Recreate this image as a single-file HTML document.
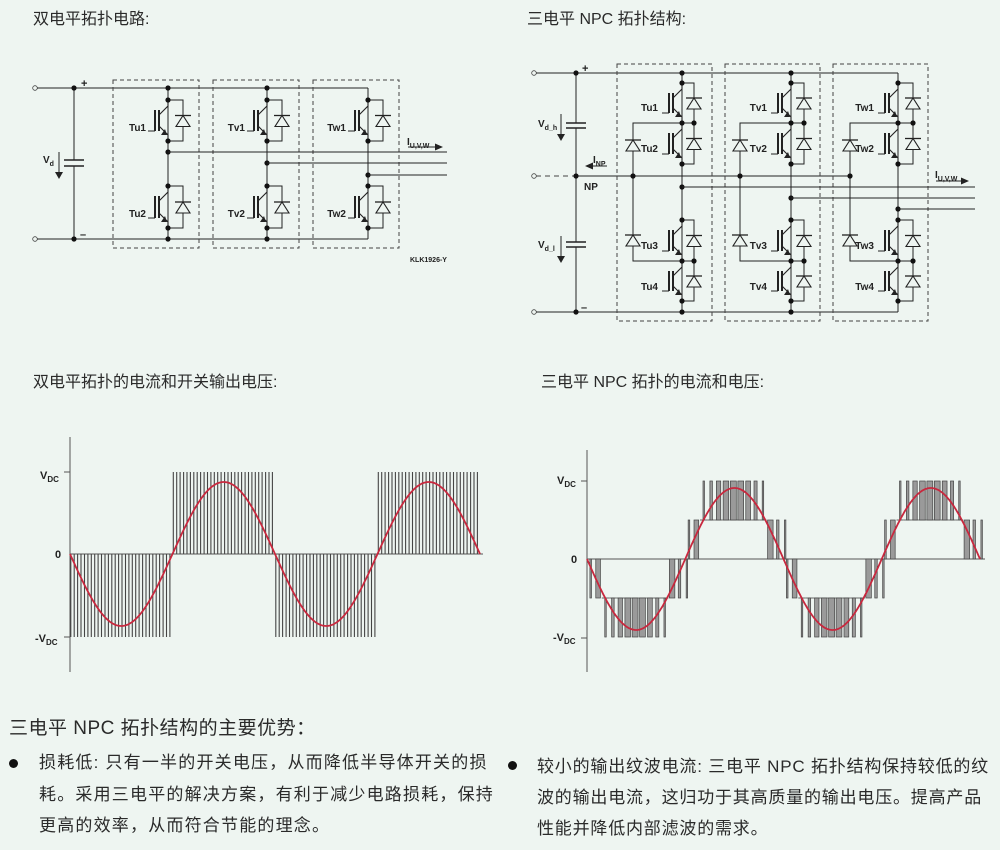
<!DOCTYPE html>
<html><head><meta charset="utf-8">
<style>
html,body{margin:0;padding:0;}
body{width:1000px;height:850px;background:#eef5f1;position:relative;overflow:hidden;font-family:"Liberation Sans","Noto Sans CJK SC",sans-serif;color:#2a2a2a;}
.t{position:absolute;white-space:nowrap;font-size:16px;line-height:20px;}
.b{position:absolute;white-space:nowrap;font-size:17px;line-height:22px;letter-spacing:1.2px;}
.r{letter-spacing:0.8px;}
.dot{position:absolute;width:9px;height:9px;border-radius:50%;background:#111;}
svg{position:absolute;left:0;top:0;}
</style></head><body>
<svg id="s" width="1000" height="850" viewBox="0 0 1000 850" font-family="Liberation Sans, sans-serif" font-weight="bold" fill="#222">
<g id="g"></g>
<g font-size="10">
<text x="81" y="87" font-size="11">+</text>
<text x="80" y="238" font-size="11">–</text>
<text x="43" y="163">V<tspan font-size="7" dy="3">d</tspan></text>
<text x="146" y="131" text-anchor="end">Tu1</text>
<text x="146" y="217" text-anchor="end">Tu2</text>
<text x="245" y="131" text-anchor="end">Tv1</text>
<text x="245" y="217" text-anchor="end">Tv2</text>
<text x="346" y="131" text-anchor="end">Tw1</text>
<text x="346" y="217" text-anchor="end">Tw2</text>
<text x="407" y="145">I<tspan font-size="7" dy="3">U,V,W</tspan></text>
<text x="410" y="262" font-size="7">KLK1926-Y</text>

<text x="582" y="72" font-size="11">+</text>
<text x="581" y="311" font-size="11">–</text>
<text x="538" y="127">V<tspan font-size="7" dy="3">d_h</tspan></text>
<text x="538" y="248">V<tspan font-size="7" dy="3">d_l</tspan></text>
<text x="593" y="163">I<tspan font-size="7" dy="3">NP</tspan></text>
<text x="584" y="190">NP</text>
<text x="935" y="178">I<tspan font-size="7" dy="3">U,V,W</tspan></text>
</g>
<g font-size="11" font-weight="bold">
<text x="40" y="479">V<tspan font-size="8" dy="3">DC</tspan></text>
<text x="55" y="558">0</text>
<text x="35" y="642">-V<tspan font-size="8" dy="3">DC</tspan></text>
<text x="557" y="484">V<tspan font-size="8" dy="3">DC</tspan></text>
<text x="571" y="563">0</text>
<text x="553" y="641">-V<tspan font-size="8" dy="3">DC</tspan></text>
</g>
</svg>
<div class="t" style="left:33px;top:10px;">双电平拓扑电路:</div>
<div class="t" style="left:527px;top:10px;">三电平 NPC 拓扑结构:</div>
<div class="t" style="left:33px;top:373px;">双电平拓扑的电流和开关输出电压:</div>
<div class="t" style="left:541px;top:373px;">三电平 NPC 拓扑的电流和电压:</div>
<div class="b" style="left:9px;top:718px;font-size:19px;letter-spacing:0.5px;">三电平 NPC 拓扑结构的主要优势：</div>
<div class="dot" style="left:9px;top:759px;"></div>
<div class="b" style="left:39px;top:752px;">损耗低: 只有一半的开关电压，从而降低半导体开关的损</div>
<div class="b" style="left:39px;top:784px;">耗。采用三电平的解决方案，有利于减少电路损耗，保持</div>
<div class="b" style="left:39px;top:815px;">更高的效率，从而符合节能的理念。</div>
<div class="dot" style="left:508px;top:761px;"></div>
<div class="b r" style="left:537px;top:756px;">较小的输出纹波电流: 三电平 NPC 拓扑结构保持较低的纹</div>
<div class="b r" style="left:537px;top:787px;">波的输出电流，这归功于其高质量的输出电压。提高产品</div>
<div class="b r" style="left:537px;top:818px;">性能并降低内部滤波的需求。</div>
<script>
(function(){
var h=[];
function L(x1,y1,x2,y2,w,c,extra){h.push('<line x1="'+x1+'" y1="'+y1+'" x2="'+x2+'" y2="'+y2+'" stroke="'+(c||'#222')+'" stroke-width="'+(w||1)+'" '+(extra||'')+'/>');}
function P(d,st){h.push('<path d="'+d+'" '+st+'/>');}
function D(x,y){h.push('<circle cx="'+x+'" cy="'+y+'" r="2.6" fill="#111"/>');}
function O(x,y){h.push('<circle cx="'+x+'" cy="'+y+'" r="2.3" fill="#eef5f1" stroke="#444" stroke-width="0.8"/>');}
function box(x1,y1,x2,y2){h.push('<rect x="'+x1+'" y="'+y1+'" width="'+(x2-x1)+'" height="'+(y2-y1)+'" fill="none" stroke="#444" stroke-width="1" stroke-dasharray="4,3"/>');}
function igbt(x,c,e){var t=c+10,b=e-10;
 L(x-13,t,x-13,b,2);L(x-20,b,x-13,b,1);L(x-9,t,x-9,b,2);
 P('M'+(x-9)+' '+(t+5)+' L'+x+' '+(c+6)+' L'+x+' '+c,'fill="none" stroke="#222" stroke-width="1.1"');
 P('M'+(x-9)+' '+(b-5)+' L'+x+' '+(e-6)+' L'+x+' '+e,'fill="none" stroke="#222" stroke-width="1.1"');
 P('M'+(x-1)+' '+(e-6)+' L'+(x-7)+' '+(e-6)+' L'+(x-3)+' '+(e-12)+' Z','fill="#222"');}
function diode(x,m){P('M'+(x-7)+' '+(m+6)+' L'+(x+7)+' '+(m+6)+' L'+x+' '+(m-5)+' Z','fill="#eef5f1" stroke="#222" stroke-width="1.1"');L(x-8,m-5,x+8,m-5,1.3);}
function adiode(x,Dd,c,e){P('M'+x+' '+c+' L'+Dd+' '+c+' L'+Dd+' '+e+' L'+x+' '+e,'fill="none" stroke="#222" stroke-width="1"');diode(Dd,(c+e)/2);}
O(35,88);O(35,239);L(37,88,368,88);L(37,239,368,239);
L(74,88,74,160);L(74,166,74,239);L(64,160,84,160,1.5);L(64,166,84,166,1.5);D(74,88);D(74,239);
L(59,152,59,174);P('M55 172 L63 172 L59 179 Z','fill="#222"');
box(113,80,199,248);box(213,80,299,248);box(313,80,399,248);
var legs=[168,267,368],outs=[152,163,175];
legs.forEach(function(x,i){L(x,88,x,239);igbt(x,100,141);igbt(x,186,228);adiode(x,183+(x-168),100,141);adiode(x,183+(x-168),186,228);
 [100,141,186,228].forEach(function(y){D(x,y)}); if(i<2){D(x,88);D(x,239);} D(x,outs[i]);L(x,outs[i],447,outs[i]);});
L(408,147,436,147);P('M443 147 L435 143.5 L435 150.5 Z','fill="#222"');
O(534,73);O(534,176);O(534,312);L(536,73,898,73);L(536,312,898,312);
L(536,176,576,176,1,'#444','stroke-dasharray="5,4"');L(576,176,850,176);
L(576,73,576,123);L(576,128,576,242);L(576,247,576,312);
L(566,123,586,123,1.5);L(566,128,586,128,1.5);L(566,242,586,242,1.5);L(566,247,586,247,1.5);
D(576,73);D(576,176);D(576,312);
L(561,114,561,136);P('M557 134 L565 134 L561 141 Z','fill="#222"');
L(561,236,561,258);P('M557 256 L565 256 L561 263 Z','fill="#222"');
L(592,166,607,166);P('M585 166 L593 162.5 L593 169.5 Z','fill="#222"');
box(617,64,712,321);box(725,64,820,321);box(833,64,928,321);
var R=[[682,633,694],[791,740,804],[898,850,913]],routs=[187,198,209];
R.forEach(function(r,i){var x=r[0],C=r[1],Dx=r[2];
 L(x,73,x,312);igbt(x,83,123);igbt(x,123,164);igbt(x,220,261);igbt(x,261,301);
 adiode(x,Dx,83,123);adiode(x,Dx,123,164);adiode(x,Dx,220,261);adiode(x,Dx,261,301);
 D(Dx,123);D(Dx,261);
 P('M'+x+' 123 L'+C+' 123 L'+C+' 261 L'+x+' 261','fill="none" stroke="#222" stroke-width="1"');
 diode(C,145);diode(C,240);D(C,176);
 [83,123,164,220,261,301].forEach(function(y){D(x,y)}); if(i<2){D(x,73);D(x,312);}
 D(x,routs[i]);L(x,routs[i],975,routs[i]);});
L(936,181,962,181);P('M969 181 L961 177.5 L961 184.5 Z','fill="#222"');
var lab=[['Tu',658],['Tv',767],['Tw',874]];
lab.forEach(function(l){[[1,107],[2,148],[3,245],[4,286]].forEach(function(k){h.push('<text x="'+l[1]+'" y="'+(k[1]+4)+'" text-anchor="end" font-size="10">'+l[0]+k[0]+'</text>');});});
L(70,437,70,672,1,'#555');L(64,472,70,472,1,'#555');L(64,637,70,637,1,'#555');L(70,554,483,554,1,'#555');
var x0=70,hp=102.5,n=30,sp=hp/n,k,j,xx,y,d;
for(k=0;k<4;k++){var s=(k%2==0)?637:472;for(j=0;j<n;j++){xx=(x0+k*hp+j*sp+0.8).toFixed(1);L(xx,554,xx,s,1.1,'#444');}}
d='';for(xx=70;xx<=480;xx+=1){y=554+72*Math.sin(Math.PI*(xx-70)/hp);d+=(xx==70?'M':'L')+xx+' '+y.toFixed(1);}
P(d,'fill="none" stroke="#c8283e" stroke-width="1.8"');
L(587,450,587,672,1,'#555');L(581,481,587,481,1,'#555');L(581,638,587,638,1,'#555');L(587,559,985,559,1,'#555');
var rx0=587,rhp=98.25,T=7.4,rects='';
for(k=0;k<4;k++){var sg=(k%2==0)?1:-1;
 for(var tt=0;tt<rhp-0.5;tt+=T){var xm=tt+T/2;var v=71*Math.sin(Math.PI*xm/rhp);var lo,hi,duty;
  if(v<39){lo=0;hi=39;duty=v/39;}else{lo=39;hi=78;duty=(v-39)/39;}
  duty=Math.max(0.2,Math.min(0.8,duty));var w=duty*T;var xs=rx0+k*rhp+tt+(T-w)/2;
  var yb=559+sg*lo,yt=559+sg*hi;
  rects+='<rect x="'+xs.toFixed(2)+'" y="'+Math.min(yb,yt)+'" width="'+w.toFixed(2)+'" height="'+Math.abs(yt-yb)+'" fill="#9a9a9a" stroke="#444" stroke-width="0.7"/>';
  if(lo>0){L((rx0+k*rhp+tt).toFixed(1),yb,(rx0+k*rhp+tt+T).toFixed(1),yb,0.8,'#444');}
 }}
h.push(rects);
d='';for(xx=587;xx<=980;xx+=1){y=559+71*Math.sin(Math.PI*(xx-587)/rhp);d+=(xx==587?'M':'L')+xx+' '+y.toFixed(1);}
P(d,'fill="none" stroke="#c8283e" stroke-width="1.8"');
document.getElementById('g').innerHTML=h.join('');
})();
</script>
</body></html>
